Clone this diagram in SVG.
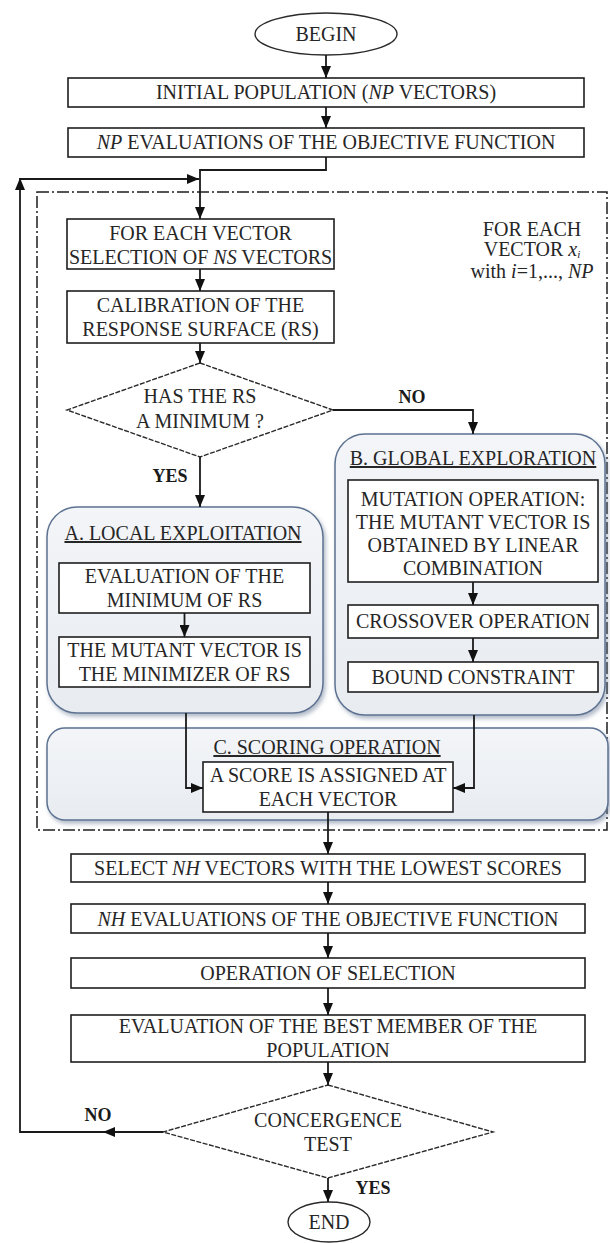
<svg xmlns="http://www.w3.org/2000/svg" width="610" height="1243" viewBox="0 0 610 1243">
<style>
  text { font-family: "Liberation Serif", "Times New Roman", serif; font-size: 20px; fill: #262626; text-anchor: middle; }
  .box { fill: #ffffff; stroke: #1e1e1e; stroke-width: 1.6; }
  .term { fill: #ffffff; stroke: #2a2a2a; stroke-width: 1.4; }
  .dia { fill: #ffffff; stroke: #2a2a2a; stroke-width: 1.4; stroke-dasharray: 5 1.5; }
  .region { fill: url(#rg); stroke: #5d7291; stroke-width: 1.5; filter: url(#sh); }
  .frame { fill: none; stroke: #1e1e1e; stroke-width: 1.5; stroke-dasharray: 12 3 2 3; }
  .ln { fill: none; stroke: #1a1a1a; stroke-width: 1.8; }
  .arr { marker-end: url(#ah); }
  .lab { font-weight: bold; font-size: 18px; fill: #1a1a1a; }
  .ttl { text-decoration: underline; }
  .it { font-style: italic; }
</style>
<defs>
  <marker id="ah" markerUnits="userSpaceOnUse" markerWidth="12" markerHeight="10" refX="12" refY="5" orient="auto">
    <path d="M0,0 L12,5 L0,10 z" fill="#111"/>
  </marker>
  <linearGradient id="rg" x1="0" y1="0" x2="0" y2="1">
    <stop offset="0" stop-color="#f3f5f8"/>
    <stop offset="1" stop-color="#e8ecf1"/>
  </linearGradient>
  <filter id="sh" x="-5%" y="-5%" width="112%" height="115%">
    <feDropShadow dx="2" dy="3" stdDeviation="2" flood-color="#6f819b" flood-opacity="0.55"/>
  </filter>
</defs>

<rect id="loop-frame" class="frame" x="37" y="192" width="570" height="638"/>

<g id="begin">
  <ellipse class="term" cx="326" cy="34" rx="71" ry="21"/>
  <text x="326" y="41">BEGIN</text>
</g>
<g id="initial-population">
  <rect class="box" x="68" y="78" width="516" height="29"/>
  <text x="326" y="99">INITIAL POPULATION (<tspan class="it">NP</tspan> VECTORS)</text>
</g>
<g id="np-evaluations">
  <rect class="box" x="68" y="128" width="516" height="29"/>
  <text x="326" y="149"><tspan class="it">NP</tspan> EVALUATIONS OF THE OBJECTIVE FUNCTION</text>
</g>
<g id="for-each-label">
  <text x="532" y="236">FOR EACH</text>
  <text x="532" y="256">VECTOR <tspan class="it">x</tspan><tspan class="it" font-size="11" dy="2">i</tspan></text>
  <text x="532" y="278">with <tspan class="it">i</tspan>=1,..., <tspan class="it">NP</tspan></text>
</g>
<g id="selection-ns">
  <rect class="box" x="67" y="219" width="267" height="50"/>
  <text x="200.5" y="240">FOR EACH VECTOR</text>
  <text x="200.5" y="264">SELECTION OF <tspan class="it">NS</tspan> VECTORS</text>
</g>
<g id="calibration">
  <rect class="box" x="67" y="291" width="267" height="52"/>
  <text x="200.5" y="312">CALIBRATION OF THE</text>
  <text x="200.5" y="336">RESPONSE SURFACE (RS)</text>
</g>
<g id="has-minimum">
  <polygon class="dia" points="200,363 333,410 200,457 67,410"/>
  <text x="200" y="403">HAS THE  RS</text>
  <text x="200" y="428">A MINIMUM ?</text>
</g>

<g id="local-exploitation">
  <rect class="region" x="47" y="507" width="276" height="206" rx="30"/>
  <text class="ttl" x="183" y="540">A. LOCAL EXPLOITATION</text>
</g>
<g id="evaluation-minimum">
  <rect class="box" x="59" y="563" width="251" height="50"/>
  <text x="184.5" y="583">EVALUATION OF THE</text>
  <text x="184.5" y="607">MINIMUM OF RS</text>
</g>
<g id="mutant-minimizer">
  <rect class="box" x="59" y="637" width="251" height="50"/>
  <text x="184.5" y="657">THE MUTANT VECTOR IS</text>
  <text x="184.5" y="681">THE MINIMIZER OF RS</text>
</g>

<g id="global-exploration">
  <rect class="region" x="335" y="434" width="270" height="281" rx="30"/>
  <text class="ttl" x="473" y="465">B. GLOBAL EXPLORATION</text>
</g>
<g id="mutation">
  <rect class="box" x="348" y="480" width="250" height="102"/>
  <text x="473" y="506">MUTATION OPERATION:</text>
  <text x="473" y="529">THE MUTANT VECTOR IS</text>
  <text x="473" y="552">OBTAINED BY LINEAR</text>
  <text x="473" y="575">COMBINATION</text>
</g>
<g id="crossover">
  <rect class="box" x="348" y="605" width="250" height="33"/>
  <text x="473" y="628">CROSSOVER OPERATION</text>
</g>
<g id="bound-constraint">
  <rect class="box" x="348" y="662" width="250" height="30"/>
  <text x="473" y="684">BOUND CONSTRAINT</text>
</g>

<g id="scoring-operation">
  <rect class="region" x="47" y="728" width="561" height="92" rx="18"/>
  <text class="ttl" x="327" y="754">C. SCORING OPERATION</text>
</g>
<g id="score-assigned">
  <rect class="box" x="203" y="762" width="250" height="50"/>
  <text x="328" y="782">A SCORE IS ASSIGNED AT</text>
  <text x="328" y="806">EACH VECTOR</text>
</g>

<g id="select-nh">
  <rect class="box" x="71" y="854" width="514" height="28"/>
  <text x="328" y="875">SELECT <tspan class="it">NH</tspan> VECTORS WITH THE LOWEST SCORES</text>
</g>
<g id="nh-evaluations">
  <rect class="box" x="71" y="904" width="514" height="29"/>
  <text x="328" y="926"><tspan class="it">NH</tspan> EVALUATIONS OF THE OBJECTIVE FUNCTION</text>
</g>
<g id="operation-selection">
  <rect class="box" x="71" y="958" width="514" height="30"/>
  <text x="328" y="980">OPERATION OF SELECTION</text>
</g>
<g id="evaluation-best">
  <rect class="box" x="71" y="1015" width="514" height="47"/>
  <text x="328" y="1033">EVALUATION OF THE BEST MEMBER OF THE</text>
  <text x="328" y="1057">POPULATION</text>
</g>
<g id="convergence-test">
  <polygon class="dia" points="328,1085 493,1132 328,1178 163,1132"/>
  <text x="328" y="1127">CONCERGENCE</text>
  <text x="328" y="1151">TEST</text>
</g>
<g id="end">
  <ellipse class="term" cx="329" cy="1222" rx="41" ry="20"/>
  <text x="329" y="1229">END</text>
</g>

<g id="connectors">
  <path class="ln arr" d="M326,55 V78"/>
  <path class="ln arr" d="M326,107 V128"/>
  <path class="ln arr" d="M326,157 V170 H200 V219"/>
  <path class="ln arr" d="M200,269 V291"/>
  <path class="ln arr" d="M200,343 V363"/>
  <path class="ln arr" d="M200,457 V507"/>
  <path class="ln arr" d="M333,410 H473 V434"/>
  <path class="ln arr" d="M184.5,613 V637"/>
  <path class="ln arr" d="M473,582 V605"/>
  <path class="ln arr" d="M473,638 V662"/>
  <path class="ln arr" d="M186,713 V788 H203"/>
  <path class="ln arr" d="M474,715 V788 H453"/>
  <path class="ln arr" d="M328,812 V854"/>
  <path class="ln arr" d="M328,882 V904"/>
  <path class="ln arr" d="M328,933 V958"/>
  <path class="ln arr" d="M328,988 V1015"/>
  <path class="ln arr" d="M328,1062 V1085"/>
  <path class="ln arr" d="M328,1178 V1202"/>
  <path class="ln arr" d="M163,1132 H103"/>
  <path class="ln arr" d="M104,1132 H20 V178"/>
  <path class="ln arr" d="M20,179 H199"/>
  <text class="lab" x="412" y="403">NO</text>
  <text class="lab" x="170" y="482" font-size="19">YES</text>
  <text class="lab" x="98" y="1121">NO</text>
  <text class="lab" x="373" y="1194" font-size="19">YES</text>
</g>
</svg>
